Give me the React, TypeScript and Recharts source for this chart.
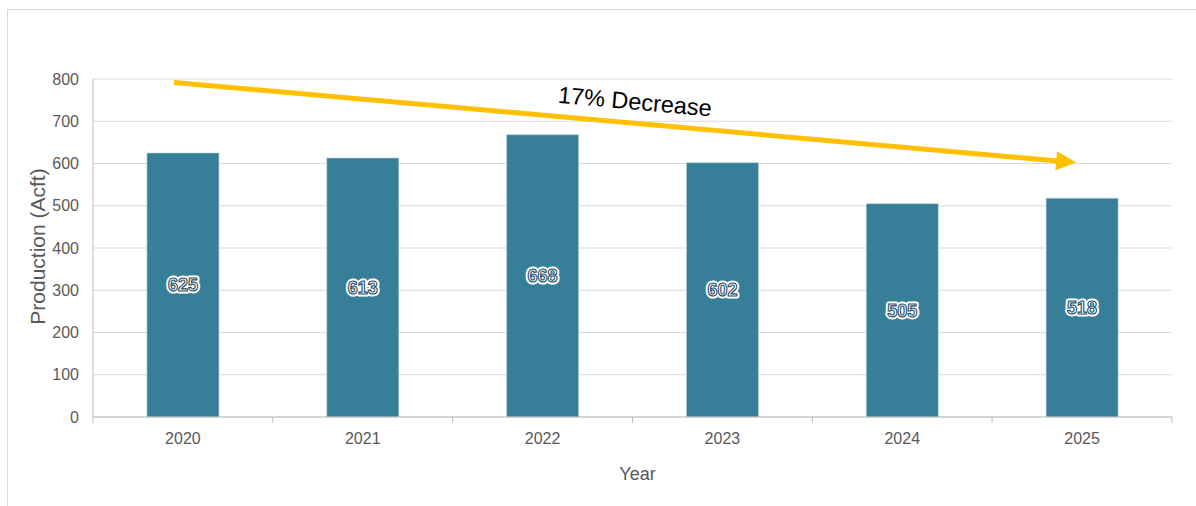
import React from "react";
import {
  BarChart, Bar, XAxis, YAxis, CartesianGrid, LabelList, ReferenceLine,
} from "recharts";

const years = ["2020", "2021", "2022", "2023", "2024", "2025"];
const production = [625, 613, 668, 602, 505, 518];
const yTicks = [0, 100, 200, 300, 400, 500, 600, 700, 800];
const trendFrom = 790;
const trendTo = 601;
const trendText = "17% Decrease";

const data = years.map((year, i) => ({ year, production: production[i] }));

const W = 1196;
const H = 506;
const M = { top: 79, right: 24, bottom: 59, left: 0 };
const Y_W = 93;
const X_H = 30;
const BAND = (W - M.left - M.right - Y_W) / years.length;

const AXIS = "#bfbfbf";
const TEXT = "#595959";
const FONT = "Arial, 'Liberation Sans', sans-serif";

function XTick(props: any) {
  const { x, y, payload, index } = props;
  const left = x - BAND / 2;
  return (
    <g>
      <line x1={left} y1={y} x2={left} y2={y + 6} stroke={AXIS} />
      {index === years.length - 1 && (
        <line x1={left + BAND} y1={y} x2={left + BAND} y2={y + 6} stroke={AXIS} />
      )}
      <text x={x} y={y + 21} dy="0.355em" textAnchor="middle" fill={TEXT} fontSize={16} fontFamily={FONT}>
        {payload.value}
      </text>
    </g>
  );
}

function ValueLabel(props: any) {
  const { x, y, width, height, value } = props;
  const cx = x + width / 2;
  const cy = y + height / 2;
  const common = {
    x: cx, y: cy, dy: "0.355em", textAnchor: "middle" as const,
    fontSize: 18, fontWeight: 700, fontFamily: FONT,
  };
  return (
    <g>
      <text {...common} fill="#fff" stroke="#fff" strokeWidth={5} strokeLinejoin="round">{value}</text>
      <text {...common} fill="#fff" stroke="#1d5069" strokeWidth={1.1}>{value}</text>
    </g>
  );
}

function TrendArrow(props: any) {
  const { x1, y1, x2, y2 } = props;
  const dx = x2 - x1;
  const dy = y2 - y1;
  const len = Math.sqrt(dx * dx + dy * dy);
  const ux = dx / len;
  const uy = dy / len;
  // the drawn arrow starts a bit before the first bar's centre and stops just short of the last
  const sx = x1 - ux * 9;
  const sy = y1 - uy * 9;
  const tx = x2 - ux * 6;
  const ty = y2 - uy * 6;
  const head = 20;
  const half = 9.5;
  const bx = tx - ux * head;
  const by = ty - uy * head;
  const px = -uy;
  const py = ux;
  const angle = (Math.atan2(dy, dx) * 180) / Math.PI;
  const mx = (sx + tx) / 2 + ux * 8 - px * 22;
  const my = (sy + ty) / 2 + uy * 8 - py * 22;
  return (
    <g>
      <line x1={sx} y1={sy} x2={bx + ux * 2} y2={by + uy * 2} stroke="#ffc000" strokeWidth={5} />
      <polygon
        points={`${tx},${ty} ${bx + px * half},${by + py * half} ${bx - px * half},${by - py * half}`}
        fill="#ffc000"
      />
      <text
        x={mx} y={my} dy="0.355em" textAnchor="middle" fontSize={23.5} fontFamily={FONT} fill="#000"
        transform={`rotate(${angle} ${mx} ${my})`}
      >
        {trendText}
      </text>
    </g>
  );
}

export default function App() {
  return (
    <div style={{ position: "absolute", left: 0, top: 0, width: W, height: H, background: "#fff", overflow: "hidden" }}>
      <div
        style={{
          position: "absolute", left: 7, top: 9, width: W, height: H,
          border: "1px solid #d9d9d9", boxSizing: "border-box",
        }}
      />
      <div style={{ position: "absolute", left: 0, top: 0 }}>
        <BarChart width={W} height={H} data={data} margin={M} barCategoryGap="30%">
          <CartesianGrid vertical={false} stroke="#d9d9d9" />
          <XAxis
            dataKey="year"
            height={X_H}
            stroke={AXIS}
            tickLine={false}
            tickSize={0}
            tickMargin={0}
            tick={<XTick />}
            interval={0}
            label={{
              content: ({ viewBox }: any) => (
                <text
                  x={viewBox.x + viewBox.width / 2 + 5}
                  y={viewBox.y + 57}
                  dy="0.355em"
                  textAnchor="middle"
                  fill={TEXT}
                  fontSize={18}
                  fontFamily={FONT}
                >
                  Year
                </text>
              ),
            }}
          />
          <YAxis
            width={Y_W}
            domain={[0, 800]}
            ticks={yTicks}
            stroke={AXIS}
            tickLine={false}
            tickSize={0}
            tickMargin={14}
            tick={{ fill: TEXT, fontSize: 16, fontFamily: FONT }}
            label={{
              content: ({ viewBox }: any) => {
                const cx = 38;
                const cy = viewBox.y + viewBox.height / 2 - 1.5;
                return (
                  <text
                    x={cx}
                    y={cy}
                    dy="0.355em"
                    textAnchor="middle"
                    fill={TEXT}
                    fontSize={21}
                    fontFamily={FONT}
                    transform={`rotate(-90 ${cx} ${cy})`}
                  >
                    Production (Acft)
                  </text>
                );
              },
            }}
          />
          <Bar dataKey="production" fill="#377e99" stroke="#b9d3de" strokeWidth={0.6} isAnimationActive={false}>
            <LabelList dataKey="production" content={<ValueLabel />} />
          </Bar>
          <ReferenceLine
            segment={[{ x: years[0], y: trendFrom }, { x: years[years.length - 1], y: trendTo }]}
            ifOverflow="visible"
            shape={<TrendArrow />}
          />
        </BarChart>
      </div>
    </div>
  );
}
